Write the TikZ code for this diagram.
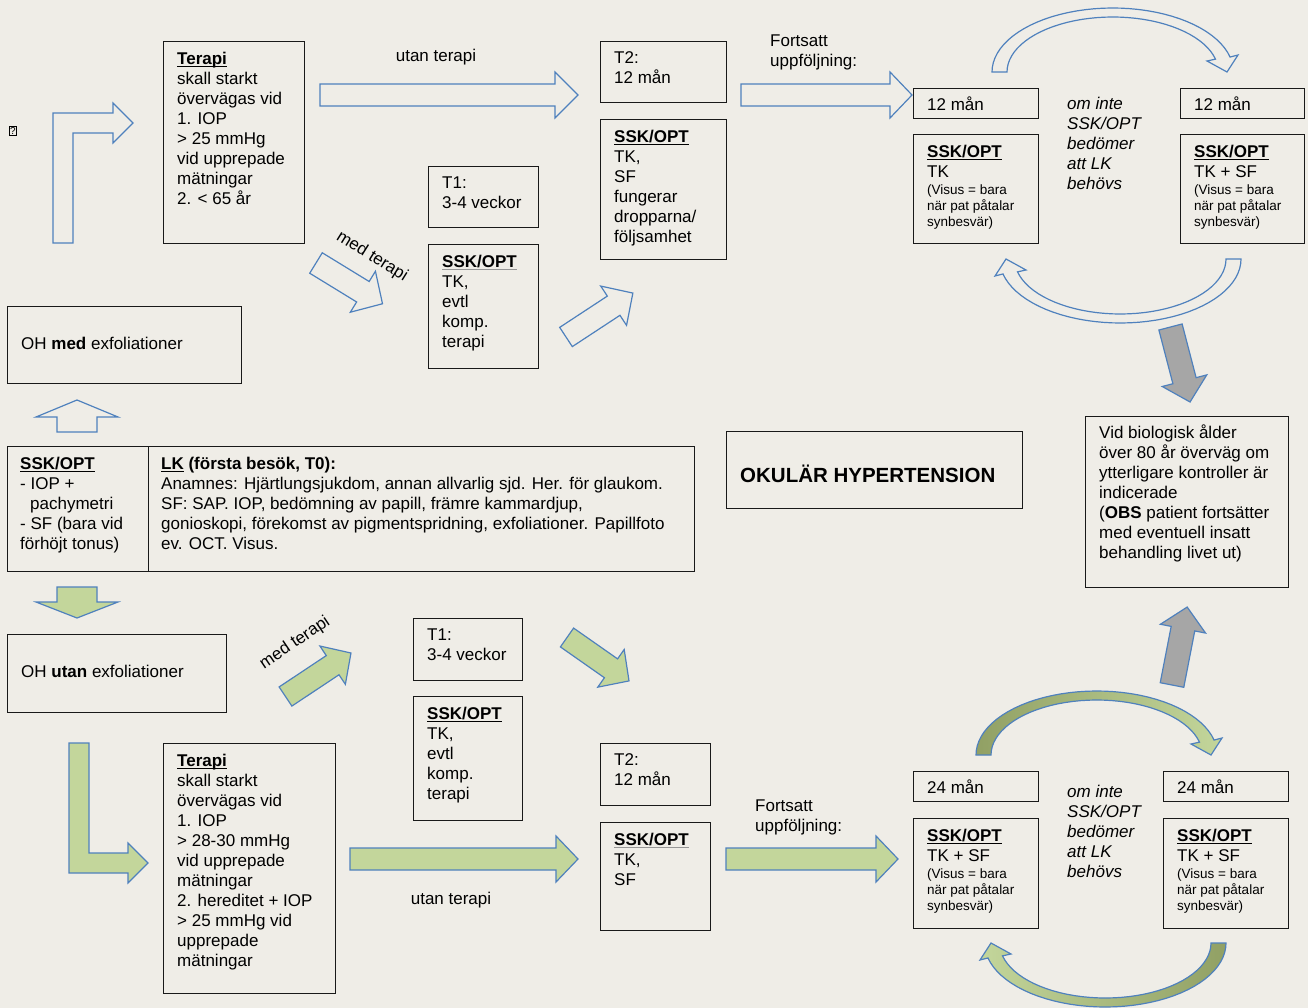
\documentclass[tikz,border=0pt]{standalone}
\usepackage{fontspec}
\setmainfont{Liberation Sans}
\usetikzlibrary{calc, positioning}

\definecolor{bgcol}{RGB}{239,237,231}
\definecolor{arrowblue}{RGB}{79,129,189}
\definecolor{lightgreen}{RGB}{195,214,155}
\definecolor{olive}{RGB}{145,160,100}
\definecolor{arrowgrey}{RGB}{166,166,166}
\definecolor{ulgrey}{RGB}{150,150,150}

\newcommand{\mainf}{\fontsize{17}{20}\selectfont}
\newcommand{\smallf}{\fontsize{13.5}{16}\selectfont}
\newcommand{\ulx}[2]{\setbox0\hbox{#2}\rlap{\color{#1}\rule[-2.6pt]{\wd0}{1pt}}#2}

\tikzset{
  box/.style={draw=black!90, line width=1.4pt, anchor=north west, inner sep=0pt},
  boxtext/.style={anchor=north west, align=left, inner sep=0pt, font=\mainf},
  plaintext/.style={align=left, inner sep=0pt, font=\mainf},
  bluearrow/.style={draw=arrowblue, line width=1.2pt, fill=bgcol},
  greenarrow/.style={draw=arrowblue, line width=1.2pt, fill=lightgreen},
  greyarrow/.style={draw=arrowblue, line width=1.2pt, fill=arrowgrey}
}

% box with its text in the upper left corner
\newcommand{\obox}[7][]{%
  \node[box, minimum width={#5-#3}, minimum height={#6-#4}] (#2) at (#3,#4) {};
  \node[boxtext, #1] (#2-t) at ([shift={(14pt,-10.5pt)}]#2.north west) {#7};}

% straight block arrow: tail, angle, length, shaft half width, head half width, head length
\newcommand{\blockarrow}[7][bluearrow]{%
  \begin{scope}[shift={#2}, rotate=#3]
    \path[#1] (0,-#5) -- ({#4-#7},-#5) -- ({#4-#7},-#6) -- (#4,0) -- ({#4-#7},#6) -- ({#4-#7},#5) -- (0,#5) -- cycle;
  \end{scope}}

% curved block arrow of the follow-up cycles: x, y of the outer tail corner, sign, style
\newcommand{\cyclearrow}[4]{%
  \path[#4] plot[domain=180:13.5, samples=40] ({#1+(#3)*(120.7+120.7*cos(\x))},{#2-(#3)*64*sin(\x)})
    -- ({#1+(#3)*246},{#2-(#3)*17}) -- ({#1+(#3)*235},{#2}) -- ({#1+(#3)*215},{#2-(#3)*11})
    -- plot[domain=13.5:180, samples=40] ({#1+(#3)*(120.7+105.7*cos(\x))},{#2-(#3)*55*sin(\x)}) -- cycle;}

\begin{document}
\begin{tikzpicture}[x=1pt, y=-1pt]
  \useasboundingbox (0,0) rectangle (1308,1008);
  \fill[bgcol] (0,0) rectangle (1308,1008);

  % Upper branch (med exfoliationer)
  \node[draw, line width=0.6pt, inner sep=0.8pt, font=\fontsize{10}{11}\selectfont] (qmark) at (13,131) {?};
  \path[bluearrow] (53,243) -- (53,113) -- (113,113) -- (113,103) -- (133,123) -- (113,143) -- (113,133) -- (73,133) -- (73,243) -- cycle;
  \obox{terapiA}{163}{41}{304}{243}{\ulx{black}{\textbf{Terapi}}\\ skall starkt\\ övervägas vid\\ 1. IOP\\ > 25 mmHg\\ vid upprepade\\ mätningar\\ 2. < 65 år}
  \node[plaintext] (utanA) at (436,57) {utan terapi};
  \blockarrow{(320,95)}{0}{258}{11}{23}{23}
  \obox{t2A}{600}{41}{726}{102}{T2:\\ 12 mån}
  \obox{sskA}{600}{119}{726}{259}{\ulx{black}{\textbf{SSK/OPT}}\\ TK,\\ SF\\ fungerar\\ dropparna/\\ följsamhet}
  \node[plaintext, anchor=north west] (fortA) at (770,35) {Fortsatt\\ uppföljning:};
  \blockarrow{(741,95)}{0}{171}{11}{23}{22}

  % med terapi (upper)
  \node[plaintext, rotate=-32] (medA) at (372,257) {med terapi};
  \blockarrow{(316,263)}{-31.5}{78}{12}{24}{23}
  \obox{t1A}{428}{166}{538}{227}{T1:\\ 3-4 veckor}
  \obox{sskD}{428}{244}{538}{368}{\ulx{ulgrey}{\textbf{SSK/OPT}}\\ TK,\\ evtl\\ komp.\\ terapi}
  \blockarrow{(566,337)}{33.3}{80}{11.5}{23.5}{23}

  % Follow-up cycle, 12 mån
  \obox[yshift=2pt]{manA}{913}{88}{1038}{118}{12 mån}
  \obox{sskB}{913}{134}{1038}{243}{\ulx{black}{\textbf{SSK/OPT}}\\ TK\\[-3pt] {\smallf (Visus = bara}\\[-4pt] {\smallf när pat påtalar}\\[-4pt] {\smallf synbesvär)}}
  \node[plaintext, anchor=north west, font=\mainf\itshape] (omA) at (1067,97) {om inte\\ SSK/OPT\\ bedömer\\ att LK\\ behövs};
  \obox[yshift=2pt]{manB}{1180}{88}{1304}{118}{12 mån}
  \obox{sskC}{1180}{134}{1304}{243}{\ulx{black}{\textbf{SSK/OPT}}\\ TK + SF\\[-3pt] {\smallf (Visus = bara}\\[-4pt] {\smallf när pat påtalar}\\[-4pt] {\smallf synbesvär)}}
  \cyclearrow{992}{72}{1}{bluearrow}
  \cyclearrow{1241}{259}{-1}{bluearrow}

  % First visit
  \obox[yshift=-20.5pt]{ohMed}{7}{306}{241}{383}{OH \textbf{med} exfoliationer}
  \blockarrow{(77,432)}{90}{32}{20}{41}{17}
  \obox[xshift=-1pt]{sskL}{7}{446}{148}{571}{\ulx{black}{\textbf{SSK/OPT}}\\ - IOP +\\ \hspace*{10pt}pachymetri\\ - SF (bara vid\\ förhöjt tonus)}
  \obox[xshift=-1pt]{lkR}{148}{446}{694}{571}{\textbf{\ulx{black}{LK} (första besök, T0):}\\ Anamnes: Hjärtlungsjukdom, annan allvarlig sjd. Her. för glaukom.\\ SF: SAP. IOP, bedömning av papill, främre kammardjup,\\ gonioskopi, förekomst av pigmentspridning, exfoliationer. Papillfoto\\ ev. OCT. Visus.}
  \blockarrow[greenarrow]{(77,587)}{-90}{31}{20}{41}{16}
  \obox[yshift=-20.5pt]{ohUtan}{7}{634}{226}{712}{OH \textbf{utan} exfoliationer}

  % Title and end note
  \obox[font=\bfseries\fontsize{20.5}{24}\selectfont, yshift=-23pt]{okular}{726}{431}{1022}{508}{OKULÄR HYPERTENSION}
  \obox[yshift=2pt]{vidbox}{1085}{416}{1288}{587}{Vid biologisk ålder\\ över 80 år överväg om\\ ytterligare kontroller är\\ indicerade\\ (\textbf{OBS} patient fortsätter\\ med eventuell insatt\\ behandling livet ut)}
  \blockarrow[greyarrow]{(1170.5,327)}{-75.4}{77.5}{12}{23}{22}
  \blockarrow[greyarrow]{(1172,685)}{79}{79.4}{12}{23}{22}

  % Lower branch (utan exfoliationer)
  \path[greenarrow] (69,743) -- (89,743) -- (89,853) -- (128,853) -- (128,843) -- (148,863) -- (128,883) -- (128,873) -- (69,873) -- cycle;
  \obox{terapiB}{163}{743}{335}{993}{\ulx{black}{\textbf{Terapi}}\\ skall starkt\\ övervägas vid\\ 1. IOP\\ > 28-30 mmHg\\ vid upprepade\\ mätningar\\ 2. hereditet + IOP\\ > 25 mmHg vid\\ upprepade\\ mätningar}
  \node[plaintext, rotate=34] (medB) at (295,643) {med terapi};
  \blockarrow[greenarrow]{(285.5,696.5)}{33.6}{78.6}{11.5}{23}{22}
  \obox{t1B}{413}{618}{522}{680}{T1:\\ 3-4 veckor}
  \obox{sskE}{413}{696}{522}{820}{\ulx{black}{\textbf{SSK/OPT}}\\ TK,\\ evtl\\ komp.\\ terapi}
  \blockarrow[greenarrow]{(567,637.5)}{-35}{75.7}{11.5}{23}{22}
  \blockarrow[greenarrow]{(350,859)}{0}{228}{11}{23}{22}
  \node[plaintext] (utanB) at (451,900) {utan terapi};
  \obox{t2B}{600}{743}{710}{805}{T2:\\ 12 mån}
  \obox{sskF}{600}{822}{710}{930}{\ulx{ulgrey}{\textbf{SSK/OPT}}\\ TK,\\ SF}
  \node[plaintext, anchor=north west] (fortB) at (755,800) {Fortsatt\\ uppföljning:};
  \blockarrow[greenarrow]{(726,859)}{0}{172}{11}{23}{22}

  % Follow-up cycle, 24 mån
  \obox[yshift=2pt]{manC}{913}{771}{1038}{801}{24 mån}
  \obox{sskG}{913}{818}{1038}{928}{\ulx{black}{\textbf{SSK/OPT}}\\ TK + SF\\[-3pt] {\smallf (Visus = bara}\\[-4pt] {\smallf när pat påtalar}\\[-4pt] {\smallf synbesvär)}}
  \node[plaintext, anchor=north west, font=\mainf\itshape] (omB) at (1067,785) {om inte\\ SSK/OPT\\ bedömer\\ att LK\\ behövs};
  \obox[yshift=2pt]{manD}{1163}{771}{1288}{801}{24 mån}
  \obox{sskH}{1163}{818}{1288}{928}{\ulx{black}{\textbf{SSK/OPT}}\\ TK + SF\\[-3pt] {\smallf (Visus = bara}\\[-4pt] {\smallf när pat påtalar}\\[-4pt] {\smallf synbesvär)}}
  \cyclearrow{976}{755}{1}{draw=arrowblue, line width=1.2pt, shade, left color=olive, right color=lightgreen}
  \cyclearrow{1226}{943}{-1}{draw=arrowblue, line width=1.2pt, shade, left color=lightgreen, right color=olive}
\end{tikzpicture}
\end{document}
